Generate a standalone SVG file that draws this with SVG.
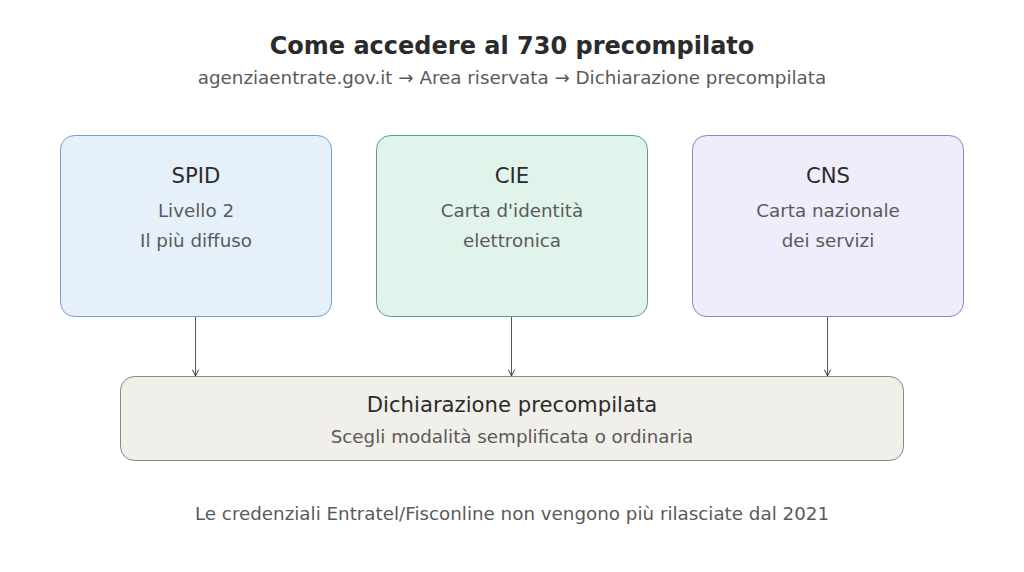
<svg xmlns="http://www.w3.org/2000/svg" width="1024" height="572" viewBox="0 0 1024 572">
<style>
text{font-family:"DejaVu Sans","Liberation Sans",sans-serif;text-anchor:middle}
.t{font-size:24px;font-weight:bold;fill:#2b2b2b}
.s{font-size:18.3px;fill:#5a5a5a}
.h{font-size:21.2px;fill:#2b2b2b}
.c{stroke:#555;stroke-width:1;fill:none}
</style>
<defs>
<marker id="a" viewBox="0 0 10 10" refX="9" refY="5" markerWidth="8" markerHeight="8" markerUnits="userSpaceOnUse" orient="auto">
<path d="M1,1 L9,5 L1,9" fill="none" stroke="#333" stroke-width="1.2"/>
</marker>
</defs>
<rect width="1024" height="572" fill="#ffffff"/>
<text class="t" x="512" y="54">Come accedere al 730 precompilato</text>
<text class="s" x="512" y="84">agenziaentrate.gov.it → Area riservata → Dichiarazione precompilata</text>
<g id="connectors">
<line class="c" x1="195.5" y1="317" x2="195.5" y2="376" marker-end="url(#a)"/>
<line class="c" x1="511.5" y1="317" x2="511.5" y2="376" marker-end="url(#a)"/>
<line class="c" x1="827.5" y1="317" x2="827.5" y2="376" marker-end="url(#a)"/>
</g>
<g id="spid">
<rect x="60.5" y="135.5" width="271" height="181" rx="14" fill="#e6f0fb" stroke="#739fd3"/>
<text class="h" x="196" y="183">SPID</text>
<text class="s" x="196" y="217">Livello 2</text>
<text class="s" x="196" y="247">Il più diffuso</text>
</g>
<g id="cie">
<rect x="376.5" y="135.5" width="271" height="181" rx="14" fill="#e1f4ec" stroke="#5f9e80"/>
<text class="h" x="512" y="183">CIE</text>
<text class="s" x="512" y="217">Carta d'identità</text>
<text class="s" x="512" y="247">elettronica</text>
</g>
<g id="cns">
<rect x="692.5" y="135.5" width="271" height="181" rx="14" fill="#efedfc" stroke="#8b82cc"/>
<text class="h" x="828" y="183">CNS</text>
<text class="s" x="828" y="217">Carta nazionale</text>
<text class="s" x="828" y="247">dei servizi</text>
</g>
<g id="dichiarazione">
<rect x="120.5" y="376.5" width="783" height="84" rx="14" fill="#f1efe9" stroke="#8a877f"/>
<text class="h" x="512" y="412">Dichiarazione precompilata</text>
<text class="s" x="512" y="443">Scegli modalità semplificata o ordinaria</text>
</g>
<text class="s" x="512" y="520">Le credenziali Entratel/Fisconline non vengono più rilasciate dal 2021</text>
</svg>
